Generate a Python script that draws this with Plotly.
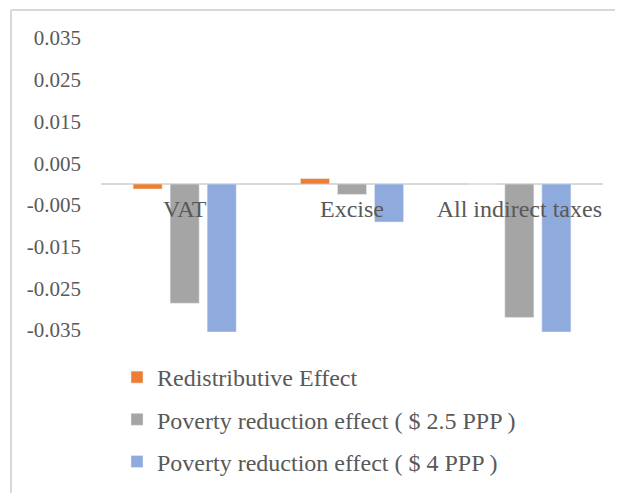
import plotly.graph_objects as go

# chart data
categories = ['VAT', 'Excise', 'All indirect taxes']
redistributive = [-0.0012, 0.0013, 0.0]
poverty_25 = [-0.0286, -0.0025, -0.0320]
poverty_4 = [-0.0355, -0.0091, -0.0355]
y_ticks = [0.035, 0.025, 0.015, 0.005, -0.005, -0.015, -0.025, -0.035]
y_tick_labels = ['0.035', '0.025', '0.015', '0.005', '-0.005', '-0.015', '-0.025', '-0.035']

W, H = 623, 493
OFF = 8  # page body margin shifts the whole figure
ML, MR, MT, MB = 101 - OFF, 20 + OFF, 36 - OFF, 161 + OFF
TEXT = '#595959'
FONT = 'Liberation Serif'

fig = go.Figure()
fig.add_trace(go.Bar(name='Redistributive Effect', x=categories, y=redistributive,
                     marker_color='#ED7D31', legendgroup='a'))
fig.add_trace(go.Bar(name='Poverty reduction effect ( $ 2.5 PPP )', x=categories, y=poverty_25,
                     marker_color='#A5A5A5', legendgroup='b'))
fig.add_trace(go.Bar(name='Poverty reduction effect ( $ 4 PPP )', x=categories, y=poverty_4,
                     marker_color='#8FAADC', legendgroup='c'))

# outer chart frame (only top and left edges visible in the original)
pw, ph = W - ML - MR, H - MT - MB
def px_x(p):
    return (p - OFF - ML) / pw
def px_y(p):
    return (H - MB - (p - OFF)) / ph

frame = dict(type='line', xref='paper', yref='paper', line=dict(color='#D9D9D9', width=2))
shapes = [
    dict(frame, x0=px_x(11), x1=px_x(640), y0=px_y(10), y1=px_y(10)),
    dict(frame, x0=px_x(11), x1=px_x(11), y0=px_y(10), y1=px_y(510)),
]

fig.update_layout(
    width=W, height=H,
    margin=dict(l=ML, r=MR, t=MT, b=MB, autoexpand=False),
    plot_bgcolor='white', paper_bgcolor='white',
    barmode='group', bargap=0.336, bargroupgap=0.216,
    font=dict(family=FONT, color=TEXT, size=21),
    showlegend=True,
    legend=dict(x=px_x(117), y=px_y(355),
                xanchor='left', yanchor='top', font=dict(family=FONT, size=24, color=TEXT),
                tracegroupgap=8, bgcolor='rgba(0,0,0,0)'),
    shapes=shapes,
)
fig.update_yaxes(range=[-0.0355, 0.0355], tickvals=y_ticks, ticktext=y_tick_labels,
                 showgrid=False, zeroline=True, zerolinecolor='#D9D9D9', zerolinewidth=2,
                 showline=False, ticks='', ticklabelstandoff=19, automargin=False,
                 tickfont=dict(family=FONT, size=21, color=TEXT))
fig.update_xaxes(anchor='free', position=0.5, showgrid=False, showline=False, ticks='',
                 ticklabelstandoff=8, automargin=False, tickangle=0,
                 tickfont=dict(family=FONT, size=24, color=TEXT))

fig.write_html("out.html")
